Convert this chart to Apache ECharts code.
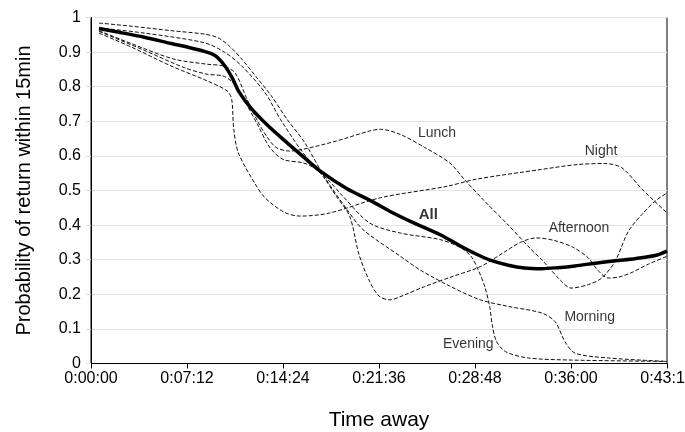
<!DOCTYPE html>
<html>
<head>
<meta charset="utf-8">
<script src="https://cdn.jsdelivr.net/npm/echarts@6/dist/echarts.min.js"></script>
<style>
  html, body { margin: 0; padding: 0; background: #fff; }
  #chart { width: 685px; height: 432px; }
</style>
</head>
<body>
<div id="chart"></div>
<script>
// x in minutes, y = probability of return within 15min
const allPts = [[0.6,0.968],[2,0.958],[4,0.943],[6,0.925],[7.5,0.912],[8.5,0.902],[9.3,0.89],[10,0.862],[10.6,0.825],[11.1,0.785],[12,0.738],[13.2,0.69],[14.5,0.645],[16,0.595],[17.2,0.556],[19.2,0.505],[21,0.47],[22.4,0.44],[24,0.41],[26.2,0.372],[27.6,0.342],[28.8,0.318],[30,0.298],[31.3,0.284],[32.5,0.276],[33.8,0.274],[35,0.277],[36.3,0.282],[37.8,0.29],[39.3,0.297],[40.8,0.303],[42.3,0.312],[43.2,0.325]];

const lunchPts = [[0.6,0.962],[3,0.925],[6.2,0.88],[8.7,0.865],[9.9,0.86],[10.8,0.84],[11.7,0.764],[12.5,0.70],[13.2,0.655],[13.9,0.624],[14.9,0.614],[15.9,0.619],[18.4,0.643],[20.9,0.672],[21.7,0.677],[23.2,0.662],[25,0.625],[26.9,0.58],[28,0.532],[29.5,0.47],[31.3,0.40],[33,0.33],[33.8,0.30],[35.3,0.237],[36,0.218],[37.3,0.228],[38.3,0.247],[39.3,0.295],[40.3,0.382],[41.3,0.43],[42.3,0.469],[43.2,0.493]];

const nightPts = [[0.6,0.955],[3,0.915],[6,0.86],[8.7,0.817],[10.2,0.788],[10.55,0.764],[10.7,0.68],[11.05,0.609],[12.3,0.52],[13.05,0.479],[14.5,0.437],[15.7,0.426],[17.9,0.435],[21.7,0.479],[26.7,0.512],[28.8,0.532],[33.8,0.561],[36.5,0.575],[38.5,0.578],[39.8,0.566],[41.3,0.505],[43.2,0.435]];

const afternoonPts = [[0.6,0.97],[4,0.955],[8.5,0.927],[10,0.90],[11.3,0.86],[13.05,0.783],[14.2,0.706],[15.9,0.609],[17.4,0.541],[18.4,0.483],[19.4,0.426],[20.1,0.315],[20.9,0.237],[21.6,0.195],[22.4,0.184],[23.5,0.198],[25,0.222],[27,0.25],[29.2,0.28],[31,0.322],[32.2,0.35],[33.4,0.363],[34.8,0.355],[36.2,0.335],[37.3,0.305],[38,0.27],[38.8,0.247],[39.6,0.25],[40.5,0.262],[41.8,0.287],[43.2,0.31]];

const morningPts = [[0.6,0.984],[3,0.975],[6,0.962],[8.5,0.952],[9.5,0.942],[10.3,0.92],[11.3,0.88],[12.5,0.823],[13.5,0.775],[14.7,0.706],[16,0.64],[17.5,0.54],[19.2,0.445],[20.4,0.387],[23.2,0.31],[24.7,0.27],[27,0.222],[29.2,0.184],[31.3,0.165],[33.8,0.146],[34.8,0.121],[35.55,0.063],[36.3,0.03],[38.8,0.016],[43.2,0.006]];

const eveningPts = [[0.6,0.96],[4,0.905],[7,0.855],[8.7,0.836],[9.9,0.831],[10.7,0.81],[11.5,0.76],[12.5,0.69],[13.4,0.625],[14.4,0.59],[15.9,0.58],[16.7,0.566],[17.8,0.53],[18.9,0.483],[20.9,0.406],[23.2,0.377],[26.2,0.358],[27.7,0.335],[28.5,0.31],[29.05,0.27],[29.55,0.22],[29.9,0.165],[30.1,0.11],[30.4,0.065],[31.1,0.034],[32.8,0.016],[36,0.01],[43.2,0.006]];

// series labels placed in data coordinates
const labelNames = ['Lunch', 'Night', 'All', 'Afternoon', 'Morning', 'Evening'];
const labelAt = [[25.95,0.665],[38.25,0.613],[25.3,0.43],[36.6,0.39],[37.4,0.135],[28.3,0.057]];

const font = 'Liberation Sans, Arial, sans-serif';

function fmtTime(v) {
  const sec = Math.round(v * 60);
  const h = Math.floor(sec / 3600);
  const m = Math.floor((sec % 3600) / 60);
  const s = sec % 60;
  return h + ':' + String(m).padStart(2, '0') + ':' + String(s).padStart(2, '0');
}

function dashed(name, pts) {
  return {
    name: name,
    type: 'line',
    data: pts,
    smooth: 0.3,
    showSymbol: false,
    lineStyle: { color: '#111', width: 1, type: [4, 2] },
    z: 2
  };
}

const chart = echarts.init(document.getElementById('chart'));
chart.setOption({
  animation: false,
  backgroundColor: '#fff',
  textStyle: { fontFamily: font },
  grid: {
    left: 91, right: 18, top: 17.5, bottom: 68.5,
    outerBoundsMode: 'none',
    show: true, borderColor: '#000', borderWidth: 1
  },
  xAxis: {
    type: 'value',
    min: 0,
    max: 43.2,
    interval: 7.2,
    name: 'Time away',
    nameLocation: 'middle',
    nameGap: 46,
    nameTextStyle: { fontSize: 21, color: '#000', fontFamily: font },
    axisLine: { show: true, lineStyle: { color: '#000', width: 1 } },
    axisTick: { show: true, length: 5, lineStyle: { color: '#000' } },
    axisLabel: { fontSize: 16, color: '#000', margin: 7, fontFamily: font, formatter: fmtTime },
    splitLine: { show: false }
  },
  yAxis: {
    type: 'value',
    min: 0,
    max: 1,
    interval: 0.1,
    name: 'Probability of return within 15min',
    nameLocation: 'middle',
    nameGap: 57,
    nameTextStyle: { fontSize: 20, color: '#000', fontFamily: font },
    axisLine: { show: true, lineStyle: { color: '#000', width: 1 } },
    axisTick: { show: true, length: 5, lineStyle: { color: '#ddd' } },
    axisLabel: { fontSize: 16, color: '#000', margin: 10, fontFamily: font },
    splitLine: { show: true, lineStyle: { color: '#e3e3e3', width: 1 } }
  },
  series: [
    dashed('Lunch', lunchPts),
    dashed('Night', nightPts),
    dashed('Afternoon', afternoonPts),
    dashed('Morning', morningPts),
    dashed('Evening', eveningPts),
    {
      name: 'All',
      type: 'line',
      data: allPts,
      smooth: 0.3,
      showSymbol: false,
      lineStyle: { color: '#000', width: 3.5 },
      z: 3
    },
    {
      name: 'labels',
      type: 'scatter',
      symbolSize: 0,
      silent: true,
      data: labelAt.map((p, i) => ({
        value: p,
        name: labelNames[i],
        label: labelNames[i] === 'All' ? { fontWeight: 'bold', fontSize: 15 } : {}
      })),
      label: {
        show: true,
        position: 'inside',
        formatter: p => p.name,
        fontSize: 14,
        color: '#000',
        fontFamily: font
      },
      labelLayout: { hideOverlap: false },
      z: 4
    }
  ]
});
</script>
</body>
</html>
